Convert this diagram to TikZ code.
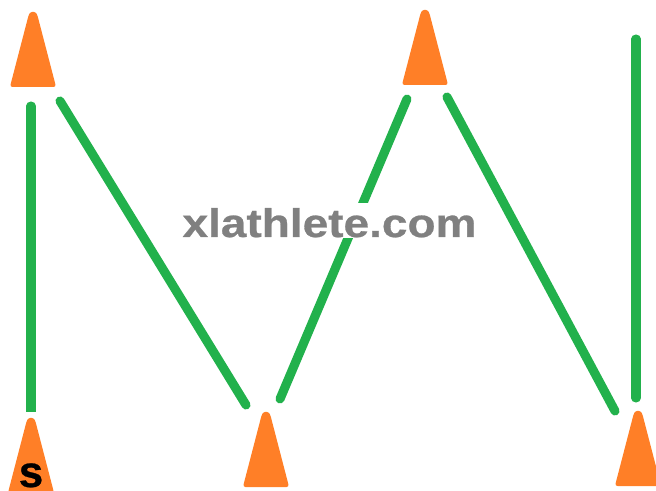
\documentclass[tikz,border=0pt]{standalone}
\usepackage{fontspec}
\setmainfont{Liberation Sans}
\newfontfamily\heavyfont[FakeBold=0.6]{Liberation Sans Bold}
\definecolor{conecol}{HTML}{FF7F27}
\definecolor{linecol}{HTML}{22B14C}
\definecolor{markcol}{HTML}{808080}
\tikzset{
  conebody/.style={fill=conecol,draw=conecol,line width=3pt,line join=round},
  course/.style={draw=linecol,line width=6.8pt,line cap=round},
  flatend/.style={draw=linecol,line width=6.8pt},
  cone/.pic={\path[conebody] (-20.5,74) -- (-2.8,6) .. controls (-2,1.5) and (2,1.5) .. (2.8,6) -- (20.5,74) -- cycle;},
  wmark/.style={font=\heavyfont\fontsize{30}{30}\selectfont,text=markcol,fill=white,inner sep=0pt,
    text height=25.5pt,text depth=0.75pt,xscale=1.15,anchor=base},
  startlabel/.style={font=\heavyfont\fontsize{33}{33}\selectfont,text=black,inner sep=0pt,anchor=base}
}
\begin{document}
\begin{tikzpicture}[x=0.75pt,y=-0.75pt]
\useasboundingbox (0,0) rectangle (656,491);
\clip (0,0) rectangle (656,491);
\coordinate (c1) at (33,11);
\coordinate (c2) at (31,417);
\coordinate (c3) at (266,411);
\coordinate (c4) at (425,9);
\coordinate (c5) at (638,410);
\coordinate (a1) at (31,106);
\coordinate (a2) at (31,405);
\coordinate (a3) at (31,412);
\coordinate (b1) at (60,101);
\coordinate (b2) at (246,405);
\coordinate (d1) at (280,399);
\coordinate (d2) at (407,99);
\coordinate (e1) at (447,97);
\coordinate (e2) at (615,411);
\coordinate (f1) at (636,39);
\coordinate (f2) at (636,398);
\draw[course] (a1) -- (a2);
\draw[flatend] (a2) -- (a3);
\draw[course] (b1) -- (b2);
\draw[course] (d1) -- (d2);
\draw[course] (e1) -- (e2);
\draw[course] (f1) -- (f2);
\pic at (c1) {cone};
\pic at (c2) {cone};
\pic at (c3) {cone};
\pic at (c4) {cone};
\pic at (c5) {cone};
\node[wmark] (site) at (329.5,237) {xlathlete.com};
\node[startlabel] (s) at (31,487) {s};
\end{tikzpicture}
\end{document}
